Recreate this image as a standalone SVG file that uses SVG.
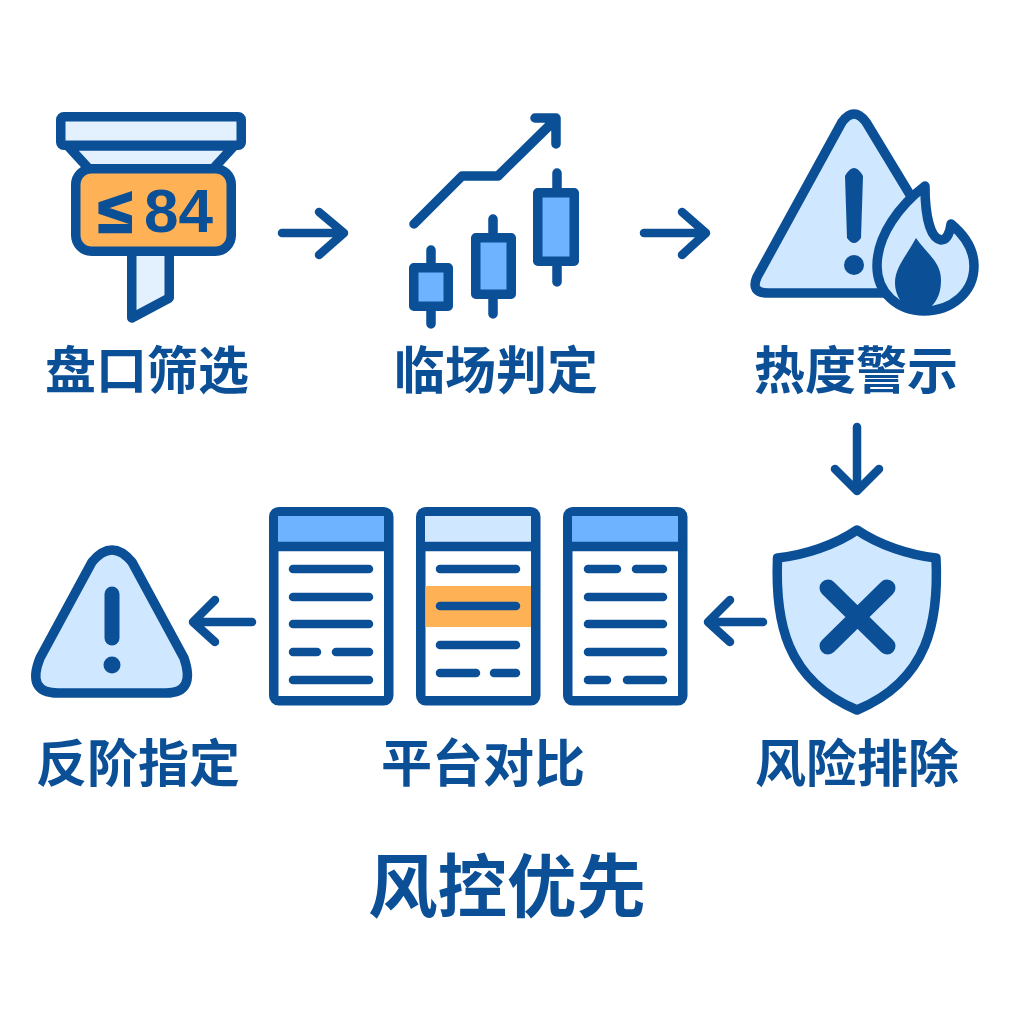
<svg xmlns="http://www.w3.org/2000/svg" width="1024" height="1024" viewBox="0 0 1024 1024">
<defs><style>
.s{stroke:#0b4f96;stroke-width:9.500;stroke-linecap:round;stroke-linejoin:round;fill:none}
.a{stroke:#0b4f96;stroke-width:8.500;stroke-linecap:round;stroke-linejoin:round;fill:none}
.pale{fill:#e3f0fd}.light{fill:#cfe8ff}.mid{fill:#6db3ff}.org{fill:#ffb255}.wh{fill:#fff}
.d{fill:#0b4f96}
.l{stroke:#0b4f96;stroke-width:8.500;stroke-linecap:round;fill:none}
.t{font-family:"Noto Sans CJK SC","Liberation Sans",sans-serif;font-weight:700;font-size:51px;fill:#0b4f96;text-anchor:middle}
</style></defs>
<rect width="1024" height="1024" fill="#fff"/>
<g id="connectors">
<path class="a" d="M282,233H344M319,212L344,233L319,255"/>
<path class="a" d="M644,233H706M682,212L706,233L682,255"/>
<path class="a" d="M857,427V491M835,469L857,491L879,469"/>
<path class="a" d="M763,622H708M730,600L708,622L730,642"/>
<path class="a" d="M252,622H193M215,600L193,622L215,642"/>
</g>
<g id="node-filter">
<path class="s pale" d="M131.750,250V318L169.250,298V250Z"/>
<path class="s pale" d="M68,146L90,170H212L234,146Z"/>
<rect class="s pale" x="60.750" y="116.750" width="180.500" height="28.500" rx="3"/>
<rect class="s org" x="75.750" y="168.750" width="155.500" height="82.500" rx="16"/>
<text font-family="'Liberation Sans',sans-serif" font-weight="700" font-size="62" fill="#0b4f96" y="232"><tspan x="98" stroke="#0b4f96" stroke-width="2.500">≤</tspan><tspan x="144">84</tspan></text>
<text class="t" x="147" y="389">盘口筛选</text>
</g>
<g id="node-candles">
<path class="s" d="M414,224L462,176H498L555,120M535,118H556V144"/>
<path class="s" d="M431,250V324M493,219V314M557,173V282"/>
<rect class="s mid" x="413.750" y="267.750" width="34.500" height="38.500"/>
<rect class="s mid" x="475.750" y="237.750" width="35.500" height="56.500"/>
<rect class="s mid" x="537.750" y="192.750" width="36.500" height="68.500"/>
<text class="t" x="496" y="389">临场判定</text>
</g>
<g id="node-heat">
<path class="s light" d="M768,293Q750,293 757,277L842,122Q854,106 866,122L912,198L900,250V293Z"/>
<path class="d" d="M845,176Q854,160 863,176L861,238Q854,248 847,238Z"/>
<circle class="d" cx="854" cy="265" r="10"/>
<path class="s light" d="M925,186C900,205 877,235 877,266C877,293 898,311 924,311C952,311 974,292 974,266C974,248 963,234 951,224C950,232 947,240 941,240C930,238 925,215 925,186Z"/>
<path class="d" d="M916,238C905,258 895,268 895,283C895,293 900,302 907,308H930C938,300 941,292 941,280C941,262 928,255 916,238Z"/>
<text class="t" x="856" y="389">热度警示</text>
</g>
<g id="node-shield">
<path class="s light" d="M857,530C835,545 805,555 777.500,558C775,620 785,680 857,710C929,680 939,620 936,558C909,555 879,545 857,530Z"/>
<path class="s" style="stroke-width:17" d="M828,588L887,646M887,588L828,646"/>
<text class="t" x="857" y="782">风险排除</text>
</g>
<g id="node-tables">
<g id="table-1">
<rect class="s wh" x="273.750" y="511.750" width="115" height="189" rx="5"/>
<rect class="mid" x="278" y="516" width="106" height="27"/>
<path class="s" d="M274,546.500H388"/>
<path class="l" d="M293,569H369M293,597H369M293,624H369M293,652H317M336,652H369M293,680H369"/>
</g>
<g id="table-2">
<rect class="s wh" x="420.750" y="511.750" width="115" height="189" rx="5"/>
<rect class="light" x="425" y="516" width="106" height="27"/>
<rect class="org" x="425.500" y="586" width="105.500" height="41"/>
<path class="s" d="M421,546.500H535"/>
<path class="l" d="M440,569H516M440,606H516M440,645H516M440,673H476M494,673H516"/>
</g>
<g id="table-3">
<rect class="s wh" x="567.750" y="511.750" width="115" height="189" rx="5"/>
<rect class="mid" x="572" y="516" width="106" height="27"/>
<path class="s" d="M568,546.500H682"/>
<path class="l" d="M588,569H617M636,569H663M588,597H663M588,624H663M588,652H663M588,680H607M627,680H663"/>
</g>
<text class="t" x="483" y="782">平台对比</text>
</g>
<g id="node-warning">
<path class="s light" d="M92,562Q112,538 132,562L184,658Q196,693 166,693H58Q26,693 40,658Z"/>
<path class="s" style="stroke-width:15" d="M112,594V638"/>
<circle class="d" cx="112" cy="665" r="8.500"/>
<text class="t" x="138" y="782">反阶指定</text>
</g>
<text id="title" class="t" style="font-size:69.500px" x="507" y="912">风控优先</text>
</svg>
